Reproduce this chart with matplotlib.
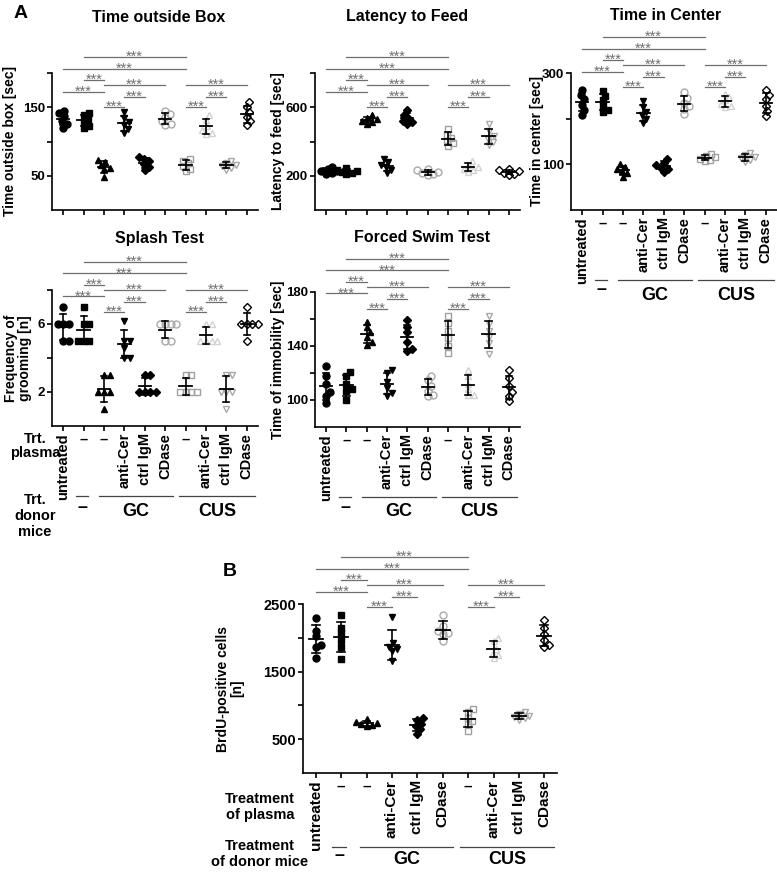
import numpy as np
import matplotlib
matplotlib.use("Agg")
import matplotlib.pyplot as plt
from matplotlib import transforms

plt.rcParams['font.family'] = ['Liberation Sans', 'DejaVu Sans']
plt.rcParams['font.weight'] = 'bold'
plt.rcParams['axes.labelweight'] = 'bold'

W, H = 777, 874

# ---------------- data ----------------
plasma_labels = ['untreated', '–', '–', 'anti-Cer', 'ctrl IgM', 'CDase',
                 '–', 'anti-Cer', 'ctrl IgM', 'CDase']
donor_labels = ['–', 'GC', 'CUS']

time_outside_box = [
    [145, 141, 137, 130, 126, 120],
    [142, 138, 133, 128, 123, 120],
    [73, 70, 66, 62, 60, 48],
    [143, 135, 128, 124, 118, 112],
    [78, 75, 71, 67, 63, 58],
    [144, 140, 136, 130, 126, 124],
    [75, 72, 68, 64, 60, 57],
    [138, 132, 122, 117, 112, 111],
    [72, 69, 66, 64, 62, 59],
    [157, 150, 143, 136, 130, 124],
]
latency_to_feed = [
    [252, 240, 230, 225, 218, 210],
    [245, 235, 228, 222, 216, 208],
    [555, 540, 530, 522, 515, 505],
    [300, 280, 262, 250, 235, 215],
    [585, 555, 535, 522, 512, 500],
    [240, 232, 222, 215, 210, 205],
    [475, 440, 420, 405, 390, 375],
    [285, 265, 250, 240, 235, 220],
    [500, 460, 430, 415, 400, 380],
    [240, 232, 225, 218, 212, 205],
]
time_in_center = [
    [263, 252, 242, 231, 220, 209],
    [260, 250, 240, 228, 220, 215],
    [100, 95, 90, 85, 80, 72],
    [238, 225, 215, 208, 200, 190],
    [112, 103, 98, 93, 90, 83],
    [258, 245, 235, 228, 222, 210],
    [122, 118, 115, 112, 110, 107],
    [255, 248, 240, 232, 228, 225],
    [125, 120, 116, 113, 110, 106],
    [263, 252, 242, 227, 216, 205],
]
splash_grooming = [
    [7, 6, 6, 6, 5, 5],
    [7, 6, 6, 5, 5, 5],
    [3, 3, 2, 2, 2, 1],
    [6.2, 5, 5, 4.6, 4, 4],
    [3, 3, 2, 2, 2, 2],
    [6, 6, 6, 6, 5, 5],
    [3, 3, 2, 2, 2, 2],
    [6, 6, 5, 5, 5, 5],
    [3, 3, 2, 2, 1, 2],
    [7, 6, 6, 6, 6, 5],
]
swim_immobility = [
    [125, 118, 112, 106, 103, 98],
    [121, 118, 112, 108, 107, 100],
    [158, 154, 150, 147, 143, 141],
    [122, 120, 113, 109, 105, 103],
    [159, 154, 150, 143, 138, 136],
    [118, 115, 110, 107, 104, 103],
    [162, 157, 151, 146, 140, 135],
    [122, 118, 112, 108, 104, 104],
    [162, 156, 151, 147, 142, 134],
    [122, 116, 110, 106, 103, 99],
]
brdu_cells = [
    [2290, 2100, 2020, 1900, 1870, 1700],
    [2330, 2150, 2070, 1970, 1860, 1680],
    [800, 760, 740, 720, 710, 700],
    [2310, 1930, 1870, 1840, 1800, 1650],
    [810, 790, 730, 700, 650, 580],
    [2340, 2170, 2100, 2070, 2060, 1950],
    [940, 900, 820, 770, 720, 620],
    [2000, 1950, 1840, 1750, 1700, 1780],
    [900, 880, 850, 830, 810, 790],
    [2260, 2150, 2050, 1970, 1900, 1860],
]

# significance comparisons (group index pairs) and their stacking level
sig_pairs = [(1, 6), (0, 6), (1, 2), (2, 5), (6, 9), (0, 2), (3, 4), (7, 8), (2, 3), (6, 7)]
sig_levels = [0, 1, 2, 3, 3, 4, 5, 5, 6, 6]
sig_text = '***'

# ---------------- styles ----------------
markers = ['o', 's', '^', 'v', 'D', 'o', 's', '^', 'v', 'D']
faces = ['k', 'k', 'k', 'k', 'k', 'none', 'none', 'none', 'none', 'none']
edges = ['k', 'k', 'k', 'k', 'k', '#a9a9a9', '#a0a0a0', '#d2d2d2', '#a9a9a9', 'k']
level_px = [0, 11.5, 23, 28, 34.5, 40, 50]
sig_color = '#6e6e6e'

fig = plt.figure(figsize=(W / 100, H / 100), dpi=100)


def swarm(vals, ppu_x, ppu_y, diam):
    vals = np.asarray(vals, float)
    order = np.argsort(vals)
    placed = []
    offs = np.zeros(len(vals))
    cands = [0.0]
    for k in range(1, 40):
        cands += [k * 0.7, -k * 0.7]
    for i in order:
        y = vals[i] * ppu_y
        for c in cands:
            if all((c - px) ** 2 + (y - py) ** 2 >= diam ** 2 for px, py in placed):
                break
        placed.append((c, y))
        offs[i] = c / ppu_x
    return offs


def make_panel(rect, data, ylim, yticks, yticklabels, ylabel, ylabel_right_px, sig_top,
               xlim=(-0.55, 9.55), tick_fs=9.5, label_fs=10, show_xlabels=False,
               xlabel_fs=10.5, donor_rows=None, mean_hw=0.3, cap_hw=0.15):
    x0, yt, x1, yb = rect
    ax = fig.add_axes([x0 / W, 1 - yb / H, (x1 - x0) / W, (yb - yt) / H])
    ax.set_xlim(*xlim)
    ax.set_ylim(*ylim)
    for s in ['top', 'right']:
        ax.spines[s].set_visible(False)
    for s in ['left', 'bottom']:
        ax.spines[s].set_linewidth(1.2)
    ax.tick_params(direction='out', length=3.5, width=1.2, labelsize=tick_fs, pad=1.5)
    ax.set_yticks(yticks)
    ax.set_yticklabels(yticklabels, fontweight='bold')
    ax.set_xticks(range(len(plasma_labels)))
    if show_xlabels:
        ax.set_xticklabels(plasma_labels, rotation=90, fontsize=xlabel_fs, fontweight='bold')
        for lbl in ax.get_xticklabels():
            if lbl.get_text() == '–':
                lbl.set_rotation(0)
    else:
        ax.set_xticklabels([])
    ax.set_ylabel(ylabel, fontsize=label_fs, fontweight='bold', linespacing=1.0)
    ax.yaxis.set_label_coords((ylabel_right_px - x0) / (x1 - x0), 0.5)

    ppu_x = (x1 - x0) / (xlim[1] - xlim[0])
    ppu_y = (yb - yt) / (ylim[1] - ylim[0])
    for i, vals in enumerate(data):
        offs = swarm(vals, ppu_x, ppu_y, 5.2)
        ms = 5.0 if markers[i] != 'D' else 4.0
        ax.plot(i + offs, vals, linestyle='none', marker=markers[i], ms=ms,
                mfc=faces[i], mec=edges[i], mew=1.0, zorder=3, clip_on=False)
        m = np.mean(vals)
        sd = np.std(vals, ddof=1)
        ax.plot([i - mean_hw, i + mean_hw], [m, m], color='k', lw=1.3, zorder=4)
        ax.plot([i, i], [m - sd, m + sd], color='k', lw=1.2, zorder=4)
        for yy in (m - sd, m + sd):
            ax.plot([i - cap_hw, i + cap_hw], [yy, yy], color='k', lw=1.2, zorder=4)

    # significance bars
    tr = transforms.blended_transform_factory(ax.transData, ax.transAxes)
    hpx = yb - yt
    for (a, b), lev in zip(sig_pairs, sig_levels):
        ypx = yt + sig_top + level_px[lev]
        yf = (yb - ypx) / hpx
        ax.plot([a, b], [yf, yf], transform=tr, color=sig_color, lw=0.9, clip_on=False)
        ax.text((a + b) / 2, (yb - (ypx + 4.0)) / hpx, sig_text, transform=tr, ha='center',
                va='baseline', fontsize=10.5, fontweight='normal', color=sig_color,
                clip_on=False)

    # donor rows
    if donor_rows is not None:
        line_y, dash_y, text_y, fs = donor_rows
        lf = (yb - line_y) / hpx
        for (a, b) in [(1 - 0.35, 1 + 0.2), (2 - 0.25, 5 + 0.4), (6 - 0.3, 9 + 0.4)]:
            ax.plot([a, b], [lf, lf], transform=tr, color='#444444', lw=0.9, clip_on=False)
        ax.text(1 - 0.07, (yb - dash_y) / hpx, donor_labels[0], transform=tr, ha='center',
                va='center', fontsize=fs, fontweight='bold', clip_on=False)
        ax.text((2 - 0.25 + 5 + 0.4) / 2, (yb - text_y) / hpx, donor_labels[1], transform=tr,
                ha='center', va='center', fontsize=fs, fontweight='bold', clip_on=False)
        ax.text((6 - 0.3 + 9 + 0.4) / 2, (yb - text_y) / hpx, donor_labels[2], transform=tr,
                ha='center', va='center', fontsize=fs, fontweight='bold', clip_on=False)
    return ax


# Panel A
make_panel((52, 73, 258, 210), time_outside_box, (0, 200), [50, 100, 150, 200],
           ['50', '', '150', ''], 'Time outside box [sec]', 17, -16)
make_panel((315, 73, 520, 210), latency_to_feed, (0, 800), [200, 400, 600, 800],
           ['200', '', '600', ''], 'Latency to feed [sec]', 285, -16)
make_panel((571, 73, 777, 210), time_in_center, (0, 300), [100, 200, 300],
           ['100', '', '300'], 'Time in center [sec]', 544, -36,
           show_xlabels=True, donor_rows=(280, 290, 295, 13))
make_panel((52, 290, 258, 426), splash_grooming, (0, 8), [2, 4, 6, 8],
           ['2', '', '6', ''], 'Frequency of\ngrooming [n]', 32, -28,
           show_xlabels=True, donor_rows=(496, 507, 512, 13))
make_panel((315, 292, 520, 427), swim_immobility, (80, 180), [100, 120, 140, 160, 180],
           ['100', '', '140', '', '180'], 'Time of immobility [sec]', 285, -33,
           show_xlabels=True, donor_rows=(497, 508, 512, 13))
# Panel B
make_panel((303, 604, 557, 773), brdu_cells, (0, 2500), [500, 1000, 1500, 2000, 2500],
           ['500', '', '1500', '', '2500'], 'BrdU-positive cells\n[n]', 244, -47,
           xlim=(-0.5, 9.5), tick_fs=10.5, show_xlabels=True, xlabel_fs=11,
           donor_rows=(847, 856, 860, 13), mean_hw=0.27, cap_hw=0.15)

# titles
for txt, x, y in [('Time outside Box', 159, 17), ('Latency to Feed', 407, 17),
                  ('Time in Center', 666, 16), ('Splash Test', 159, 238),
                  ('Forced Swim Test', 422, 237)]:
    fig.text(x / W, 1 - y / H, txt, ha='center', va='center', fontsize=11.5, fontweight='bold')

fig.text(21 / W, 1 - 13 / H, 'A', ha='center', va='center', fontsize=14, fontweight='bold')
fig.text(230 / W, 1 - 572 / H, 'B', ha='center', va='center', fontsize=14, fontweight='bold')

# row labels
fig.text(35 / W, 1 - 446 / H, 'Trt.\nplasma', ha='center', va='center', fontsize=10.5,
         fontweight='bold', linespacing=1.0)
fig.text(35 / W, 1 - 516 / H, 'Trt.\ndonor\nmice', ha='center', va='center', fontsize=10.5,
         fontweight='bold', linespacing=1.15)
fig.text(260 / W, 1 - 807 / H, 'Treatment\nof plasma', ha='center', va='center', fontsize=10.5,
         fontweight='bold', linespacing=1.15)
fig.text(260 / W, 1 - 854 / H, 'Treatment\nof donor mice', ha='center', va='center',
         fontsize=10.5, fontweight='bold', linespacing=1.15)

fig.savefig('out.png', dpi=100, facecolor='white')
